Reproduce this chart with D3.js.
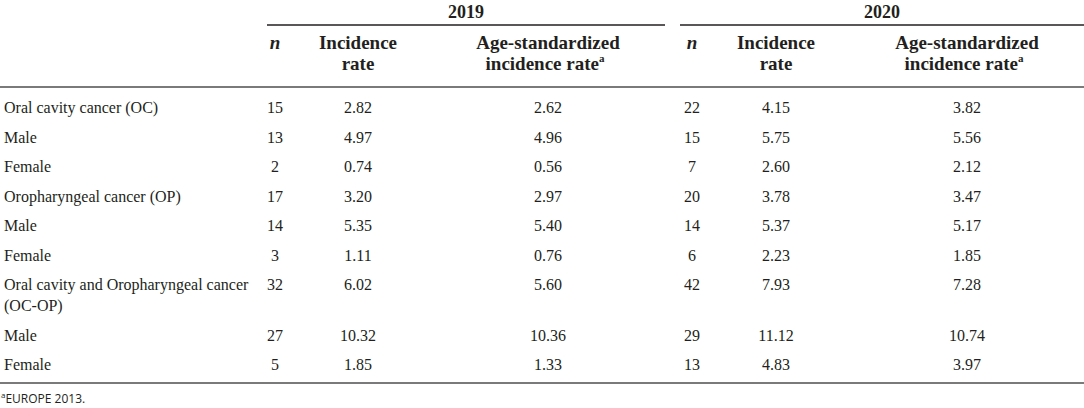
<!DOCTYPE html>
<html>
<head>
<meta charset="utf-8">
<script src="https://cdn.jsdelivr.net/npm/d3@7"></script>
<style>
  body { margin: 0; background: #fff; }
  svg { display: block; }
</style>
</head>
<body>
<div id="table"></div>
<script>
// table contents
const years = ["2019", "2020"];
const colKeys = ["n19", "inc19", "asr19", "n20", "inc20", "asr20"];
const rowLabels = [
    ["Oral cavity cancer (OC)"],
    ["Male"],
    ["Female"],
    ["Oropharyngeal cancer (OP)"],
    ["Male"],
    ["Female"],
    ["Oral cavity and Oropharyngeal cancer", "(OC-OP)"],
    ["Male"],
    ["Female"]
];
const n2019   = ["15", "13", "2", "17", "14", "3", "32", "27", "5"];
const inc2019 = ["2.82", "4.97", "0.74", "3.20", "5.35", "1.11", "6.02", "10.32", "1.85"];
const asr2019 = ["2.62", "4.96", "0.56", "2.97", "5.40", "0.76", "5.60", "10.36", "1.33"];
const n2020   = ["22", "15", "7", "20", "14", "6", "42", "29", "13"];
const inc2020 = ["4.15", "5.75", "2.60", "3.78", "5.37", "2.23", "7.93", "11.12", "4.83"];
const asr2020 = ["3.82", "5.56", "2.12", "3.47", "5.17", "1.85", "7.28", "10.74", "3.97"];
const footnote = "EUROPE 2013.";

const columns = [n2019, inc2019, asr2019, n2020, inc2020, asr2020];

// layout
const width = 1084, height = 408;
const ink = "#231f20";
const serif = "'Liberation Serif', 'Times New Roman', serif";

const x = d3.scaleOrdinal()
    .domain(colKeys)
    .range([275, 358, 548, 692, 776, 967]);

const yearSpan = d3.scaleOrdinal()
    .domain(years)
    .range([[267, 665], [680, 1084]]);

// row baselines: fixed step, two-line row pushes the rest down
const rowStep = 29.5, lineStep = 21, firstRow = 113;
let offsets = [];
let acc = firstRow;
rowLabels.forEach(lines => {
    offsets.push(acc);
    acc += rowStep + (lines.length - 1) * lineStep;
});
const y = d3.scaleOrdinal().domain(d3.range(rowLabels.length)).range(offsets);

const svg = d3.select("#table")
    .append("svg")
    .attr("width", width)
    .attr("height", height);

// year headers with underline
const yearG = svg.selectAll(".year")
    .data(years)
    .join("g")
    .attr("class", "year");

yearG.append("text")
    .attr("x", d => (yearSpan(d)[0] + yearSpan(d)[1]) / 2)
    .attr("y", 18)
    .attr("text-anchor", "middle")
    .attr("font-family", serif)
    .attr("font-weight", "bold")
    .attr("font-size", 18)
    .attr("fill", ink)
    .text(d => d);

yearG.append("line")
    .attr("x1", d => yearSpan(d)[0])
    .attr("x2", d => yearSpan(d)[1])
    .attr("y1", 25)
    .attr("y2", 25)
    .attr("stroke", ink)
    .attr("stroke-width", 1.5);

// column headers
const headers = [
    {key: "n19", lines: ["n"], italic: true},
    {key: "inc19", lines: ["Incidence", "rate"]},
    {key: "asr19", lines: ["Age-standardized", "incidence rate"], sup: true},
    {key: "n20", lines: ["n"], italic: true},
    {key: "inc20", lines: ["Incidence", "rate"]},
    {key: "asr20", lines: ["Age-standardized", "incidence rate"], sup: true}
];

const head = svg.selectAll(".colhead")
    .data(headers)
    .join("text")
    .attr("class", "colhead")
    .attr("text-anchor", "middle")
    .attr("font-family", serif)
    .attr("font-weight", "bold")
    .attr("font-size", 19)
    .attr("font-style", d => d.italic ? "italic" : null)
    .attr("fill", ink);

head.each(function(d) {
    const t = d3.select(this);
    d.lines.forEach((line, i) => {
        const last = i == d.lines.length - 1;
        t.append("tspan")
            .attr("x", x(d.key) + (d.sup && last ? -3 : 0))
            .attr("y", 49 + i * lineStep)
            .text(line);
        if (d.sup && last) {
            t.append("tspan")
                .attr("font-size", 11)
                .attr("dy", -8)
                .text("a");
        }
    });
});

// rules
svg.append("line")
    .attr("x1", 0).attr("x2", width)
    .attr("y1", 87).attr("y2", 87)
    .attr("stroke", "#7a7a7a")
    .attr("stroke-width", 2);

svg.append("line")
    .attr("x1", 0).attr("x2", width)
    .attr("y1", 383).attr("y2", 383)
    .attr("stroke", "#7a7a7a")
    .attr("stroke-width", 2);

// row labels
const labels = svg.selectAll(".rowlabel")
    .data(rowLabels)
    .join("text")
    .attr("class", "rowlabel")
    .attr("font-family", serif)
    .attr("font-size", 16)
    .attr("fill", ink);

labels.each(function(lines, r) {
    const t = d3.select(this);
    lines.forEach((line, i) => {
        t.append("tspan")
            .attr("x", 4)
            .attr("y", y(r) + i * lineStep)
            .text(line);
    });
});

// body cells
colKeys.forEach((key, c) => {
    svg.selectAll(".cell-" + key)
        .data(columns[c])
        .join("text")
        .attr("class", "cell-" + key)
        .attr("x", x(key))
        .attr("y", (d, r) => y(r))
        .attr("text-anchor", "middle")
        .attr("font-family", serif)
        .attr("font-size", 16)
        .attr("fill", ink)
        .text(d => d);
});

// footnote
const foot = svg.append("text")
    .attr("x", 1)
    .attr("y", 403)
    .attr("font-family", "'Open Sans', sans-serif")
    .attr("font-size", 12)
    .attr("fill", ink);
foot.append("tspan").attr("font-size", 8).attr("dy", -5).text("a");
foot.append("tspan").attr("dy", 5).text(footnote);
</script>
</body>
</html>
